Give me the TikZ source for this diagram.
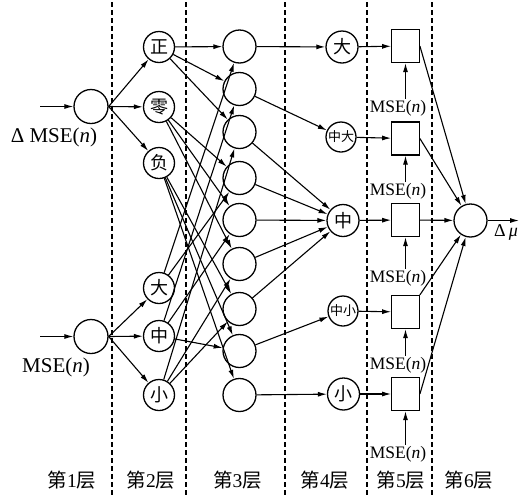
\documentclass[tikz,border=0pt]{standalone}
\usepackage{fontspec}
\setmainfont{Liberation Serif}
\newfontfamily\cjk{Noto Sans CJK SC}
\usetikzlibrary{arrows.meta}
\begin{document}
\begin{tikzpicture}[x=1pt,y=-1pt,
  nA/.style={circle,draw,line width=1.3pt,minimum size=34pt,inner sep=0pt},
  nB/.style={circle,draw,line width=1.3pt,minimum size=31pt,inner sep=0pt,font=\cjk\fontsize{18}{18}\selectfont},
  nC/.style={circle,draw,line width=1.3pt,minimum size=33pt,inner sep=0pt},
  nD/.style={circle,draw,line width=1.3pt,minimum size=32pt,inner sep=0pt,font=\cjk\fontsize{18}{18}\selectfont},
  nDs/.style={circle,draw,line width=1.3pt,minimum size=30pt,inner sep=0pt,font=\cjk\fontsize{13}{13}\selectfont},
  boxnode/.style={rectangle,draw,line width=1.3pt,minimum width=27.5pt,minimum height=33pt,inner sep=0pt},
  arr/.style={-{Latex[length=9pt,width=5pt]},line width=1.1pt},
  divider/.style={dash pattern=on 5pt off 3pt,line width=1.3pt},
  mselab/.style={inner sep=1pt,font=\fontsize{17.5}{18}\selectfont},
  biglab/.style={inner sep=1pt,font=\fontsize{21}{22}\selectfont},
  layerlab/.style={inner sep=0pt,font=\fontsize{19.5}{20}\selectfont}
]
\useasboundingbox (0,0) rectangle (527,496);

% dividers
\foreach \xx/\nm in {112/d1,186/d2,285/d3,367/d4,432/d5}{
  \coordinate (\nm t) at (\xx,2);
  \coordinate (\nm b) at (\xx,496);
  \draw[divider] (\nm t) -- (\nm b);
}

% layer 1
\node[nA] (i1) at (91,106.5) {};
\node[nA] (i2) at (91,336.5) {};
\coordinate (s1) at (40,106.5);
\coordinate (s2) at (40,336.5);
\node[biglab] (lab1) at (54,137) {Δ MSE(\textit{n})};
\node[biglab] (lab2) at (56,367) {MSE(\textit{n})};

% layer 2
\node[nB] (zh) at (159,47) {正};
\node[nB] (ling) at (159,107) {零};
\node[nB] (fu) at (159,163) {负};
\node[nB] (da) at (159,288) {大};
\node[nB] (zhong) at (159,336) {中};
\node[nB] (xiao) at (159,395) {小};

% layer 3
\foreach \k/\yy in {1/46.5,2/89,3/132,4/178,5/220,6/264,7/309,8/351,9/395}{
  \node[nC] (h\k) at (239.5,\yy) {};
}

% layer 4
\node[nD] (o1) at (342,47) {大};
\node[nDs] (o2) at (341,137) {中大};
\node[nD] (o3) at (343,220.5) {中};
\node[nDs] (o4) at (343,311) {中小};
\node[nD] (o5) at (343.5,394) {小};

% layer 5
\foreach \k/\yy/\ly in {1/46/108,2/138.5/191,3/220/278,4/312/365,5/394/454}{
  \node[boxnode] (b\k) at (405.5,\yy) {};
  \node[mselab] (m\k) at (398,\ly) {MSE(\textit{n})};
  \draw[arr] (m\k.north -| b\k.south) -- (b\k.south);
}

% layer 6
\node[nC] (y) at (470.5,220.5) {};
\coordinate (yo) at (519,220.5);
\node[inner sep=0pt,font=\fontsize{18}{18}\selectfont] (dmu) at (506,232) {Δ\,\textit{μ}};

% layer labels
\node[layerlab] (L1) at (72,480) {{\cjk 第}1{\cjk 层}};
\node[layerlab] (L2) at (151,480) {{\cjk 第}2{\cjk 层}};
\node[layerlab] (L3) at (237.5,480) {{\cjk 第}3{\cjk 层}};
\node[layerlab] (L4) at (325,480) {{\cjk 第}4{\cjk 层}};
\node[layerlab] (L5) at (401,480) {{\cjk 第}5{\cjk 层}};
\node[layerlab] (L6) at (469,480) {{\cjk 第}6{\cjk 层}};

% connectors
\draw[arr] (s1) -- (i1);
\draw[arr] (s2) -- (i2);
\foreach \t in {zh,ling,fu}{\draw[arr] (i1.east) -- (\t);}
\foreach \t in {da,zhong,xiao}{\draw[arr] (i2.east) -- (\t);}

\foreach \t in {1,2,3}{\draw[arr] (zh) -- (h\t);}
\foreach \t in {4,5,6}{\draw[arr] (ling) -- (h\t);}
\foreach \t in {7,8,9}{\draw[arr] (fu) -- (h\t);}
\foreach \t in {1,4}{\draw[arr] (da) -- (h\t);}
\foreach \t in {2,5,8}{\draw[arr] (zhong) -- (h\t);}
\foreach \t in {3,6,7}{\draw[arr] (xiao) -- (h\t);}

\draw[arr] (h1) -- (o1);
\draw[arr] (h2) -- (o2);
\foreach \t in {3,4,5,6,7}{\draw[arr] (h\t) -- (o3);}
\draw[arr] (h8) -- (o4);
\draw[arr] (h9) -- (o5);

\foreach \k in {1,2,3,4,5}{\draw[arr] (o\k) -- (b\k);}

\draw[arr] (b1.east) -- (y);
\draw[arr] (b2.east) -- (y);
\draw[arr] (b3) -- (y);
\draw[arr] (b4.north east) -- (y);
\draw[arr] (b5.east) -- (y);
\draw[arr] (y) -- (yo);
\end{tikzpicture}
\end{document}
